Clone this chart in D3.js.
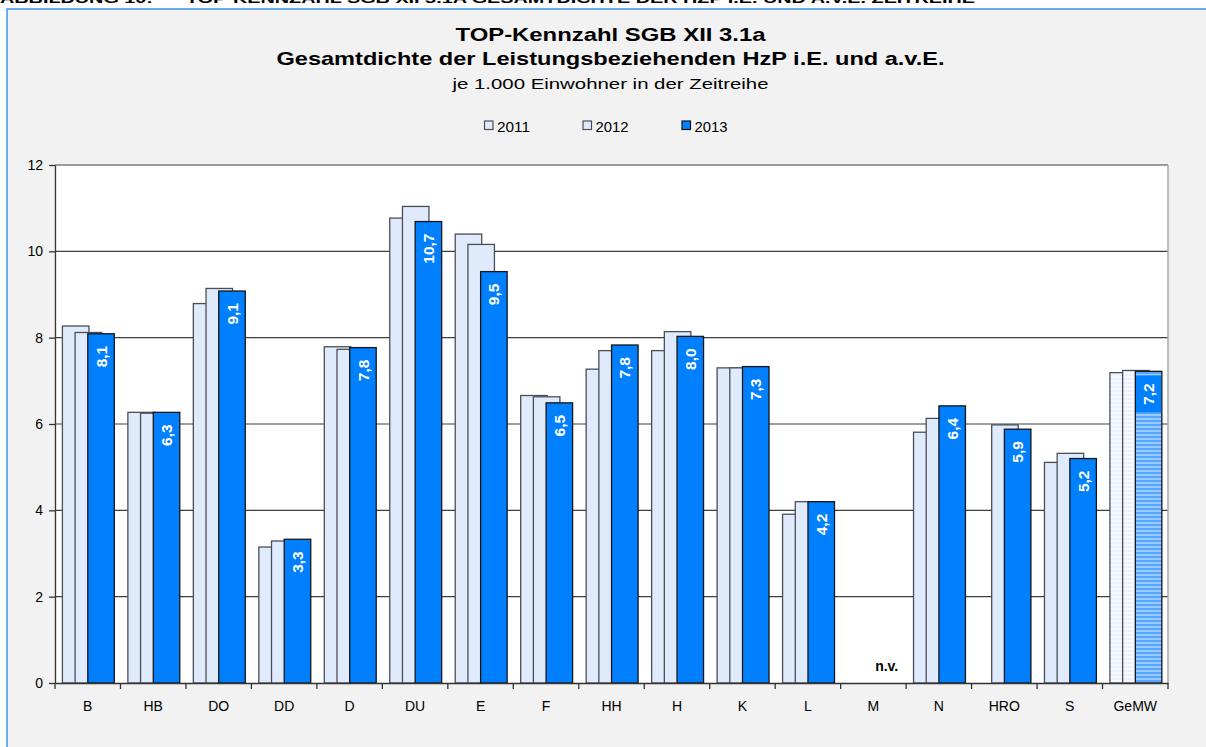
<!DOCTYPE html>
<html><head><meta charset="utf-8">
<script src="https://cdn.jsdelivr.net/npm/d3@7"></script>
<style>
body{margin:0;background:#fff;}
svg{display:block;font-family:"Liberation Sans",Arial,sans-serif;}
</style>
</head><body>
<svg id="c" width="1206" height="747"></svg>
<script>
// ---------- data ----------
const categories = ["B","HB","DO","DD","D","DU","E","F","HH","H","K","L","M","N","HRO","S","GeMW"];
const seriesNames = ["2011","2012","2013"];
const values2011 = [8.27,6.27,8.79,3.15,7.79,10.77,10.40,6.66,7.27,7.70,7.30,3.91,null,5.81,null,5.11,7.19];
const values2012 = [8.12,6.25,9.14,3.29,7.73,11.04,10.16,6.63,7.70,8.14,7.30,4.20,null,6.13,5.98,5.32,7.24];
const values2013 = [8.09,6.27,9.08,3.33,7.77,10.69,9.53,6.49,7.83,8.03,7.33,4.20,null,6.42,5.88,5.20,7.22];
const yTicks = [0,2,4,6,8,10,12];
const averageCategory = "GeMW";
const missingText = "n.v.";
const titleLines = ["TOP-Kennzahl SGB XII 3.1a","Gesamtdichte der Leistungsbeziehenden HzP i.E. und a.v.E.","je 1.000 Einwohner in der Zeitreihe"];
const headerText = "ABBILDUNG 10:      TOP-KENNZAHL SGB XII 3.1A GESAMTDICHTE DER HZP I.E. UND A.V.E. ZEITREIHE";

const allSeries = [values2011, values2012, values2013];

// ---------- styles ----------
const fills = ["#E0EAFD","#E0EAFD","#0080FF"];
const strokes = ["#4a4f57","#4a4f57","#151515"];

const svg = d3.select("#c");
const defs = svg.append("defs");
function stripes(id, a, b, h1, h2){
  const p = defs.append("pattern").attr("id",id).attr("patternUnits","userSpaceOnUse")
    .attr("width",8).attr("height",h1+h2);
  p.append("rect").attr("width",8).attr("height",h1).attr("fill",a);
  p.append("rect").attr("y",h1).attr("width",8).attr("height",h2).attr("fill",b);
}
stripes("pLight","#F8FAFF","#ECF2FD",2,2);
stripes("pBlue","#55A7FF","#9ACAFF",2,2);
const avgFills = ["url(#pLight)","url(#pLight)","url(#pBlue)"];

// page + chart box
svg.append("rect").attr("width",1206).attr("height",747).attr("fill","#fff");
svg.append("text").attr("x",0).attr("y",3).attr("font-size",13).attr("font-weight","bold")
  .attr("fill","#000").attr("xml:space","preserve").attr("textLength",975).attr("lengthAdjust","spacingAndGlyphs")
  .text(headerText);
svg.append("rect").attr("x",7).attr("y",9).attr("width",1210).attr("height",750)
  .attr("fill","#F2F2F2").attr("stroke","#3D93F0").attr("stroke-width",1.5);

// titles
const titleCfg = [
  {y:41, size:19, weight:"bold", len:310},
  {y:65, size:19, weight:"bold", len:668},
  {y:89, size:15, weight:"normal", len:316}
];
titleLines.forEach((t,i)=>{
  svg.append("text").attr("x",610.5).attr("y",titleCfg[i].y).attr("text-anchor","middle")
    .attr("font-size",titleCfg[i].size).attr("font-weight",titleCfg[i].weight).attr("fill","#000")
    .attr("textLength",titleCfg[i].len).attr("lengthAdjust","spacingAndGlyphs").text(t);
});

// legend
const legendX = [484.5, 583, 682];
seriesNames.forEach((s,i)=>{
  svg.append("rect").attr("x",legendX[i]).attr("y",121).attr("width",8.5).attr("height",8.5)
    .attr("fill",fills[i]).attr("stroke",strokes[i]).attr("stroke-width",1.2);
  svg.append("text").attr("x",legendX[i]+12.5).attr("y",131.5).attr("font-size",14)
    .attr("fill","#000").attr("textLength",33).attr("lengthAdjust","spacingAndGlyphs").text(s);
});

// scales
const L = 55, R = 1168, T = 165, B = 683;
const x = d3.scaleBand().domain(categories).range([L,R]).padding(0);
const y = d3.scaleLinear().domain([0,12]).range([B,T]);
const bw = x.bandwidth();
const barW = bw*0.405, step = bw*0.194, leftPad = bw*0.113;
const sx = (cat,j) => x(cat) + leftPad + j*step;

// plot area
svg.append("rect").attr("x",L).attr("y",T).attr("width",R-L).attr("height",B-T).attr("fill","#fff");
svg.append("g").selectAll("line").data(yTicks.filter(d=>d>0)).join("line")
  .attr("x1",L).attr("x2",R).attr("y1",d=>y(d)).attr("y2",d=>y(d))
  .attr("stroke","#3f3f3f").attr("stroke-width",1.2);
svg.append("line").attr("x1",R).attr("x2",R).attr("y1",T).attr("y2",B)
  .attr("stroke","#a8a8a8").attr("stroke-width",1.5);

// bars
allSeries.forEach((vals,j)=>{
  const data = categories.map((c,i)=>({c, v:vals[i]})).filter(d=>d.v!=null);
  svg.append("g").selectAll("rect").data(data).join("rect")
    .attr("x",d=>sx(d.c,j)).attr("y",d=>y(d.v)).attr("width",barW).attr("height",d=>y(0)-y(d.v))
    .attr("fill",d=>d.c===averageCategory?avgFills[j]:fills[j])
    .attr("stroke",strokes[j]).attr("stroke-width",1.3);
});

// data labels for 2013
const fmt = v => d3.format(".1f")(v).replace(".",",");
const lab = categories.map((c,i)=>({c, v:values2013[i]})).filter(d=>d.v!=null);
svg.append("g").selectAll("rect").data(lab.filter(d=>d.c===averageCategory)).join("rect")
  .attr("x",d=>sx(d.c,2)+0.7).attr("y",d=>y(d.v)+4).attr("width",barW-1.4).attr("height",37)
  .attr("fill","#0080FF");
svg.append("g").selectAll("text").data(lab).join("text")
  .attr("transform",d=>`translate(${sx(d.c,2)+barW/2},${y(d.v)+12}) rotate(-90)`)
  .attr("dy","0.36em").attr("text-anchor","end").attr("font-size",15.5).attr("font-weight","bold")
  .attr("fill","#fff").text(d=>fmt(d.v));
// missing
svg.append("g").selectAll("text").data(categories.filter((c,i)=>values2013[i]==null)).join("text")
  .attr("x",c=>sx(c,2)+barW/2).attr("y",y(0)-12).attr("text-anchor","middle")
  .attr("font-size",14).attr("font-weight","bold").attr("fill","#000").text(missingText);

// axes
const yAxis = svg.append("g").attr("transform",`translate(${L},0)`)
  .call(d3.axisLeft(y).tickValues(yTicks).tickSize(6).tickPadding(6).tickSizeOuter(0));
yAxis.select(".domain").attr("stroke","#333").attr("stroke-width",1.3);
yAxis.selectAll(".tick line").attr("stroke","#333").attr("stroke-width",1.3);
yAxis.selectAll("text").attr("font-size",14).attr("fill","#000").attr("font-family","Liberation Sans, Arial, sans-serif");

const xAxis = svg.append("g").attr("transform",`translate(0,${B})`)
  .call(d3.axisBottom(x).tickSize(0).tickPadding(18).tickSizeOuter(0));
xAxis.select(".domain").attr("stroke","#333").attr("stroke-width",1.5);
xAxis.selectAll("text").attr("font-size",14).attr("fill","#000").attr("font-family","Liberation Sans, Arial, sans-serif");
svg.append("g").selectAll("line").data(d3.range(categories.length+1)).join("line")
  .attr("x1",k=>L+k*bw).attr("x2",k=>L+k*bw).attr("y1",B).attr("y2",B+6)
  .attr("stroke","#333").attr("stroke-width",1.3);
</script>
</body></html>
